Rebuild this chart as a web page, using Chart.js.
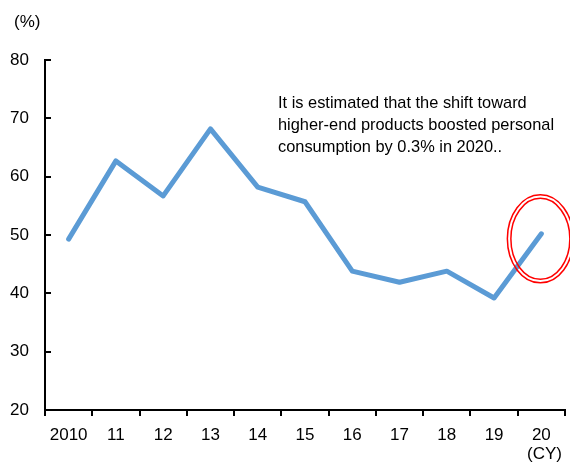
<!DOCTYPE html>
<html>
<head>
<meta charset="utf-8">
<script src="https://cdn.jsdelivr.net/npm/chart.js@4"></script>
<style>
  html, body { margin: 0; padding: 0; background: #fff; }
  #wrap { width: 570px; height: 462px; }
</style>
</head>
<body>
<div id="wrap"><canvas id="lineChart" width="570" height="462"></canvas></div>
<script>
// Datos
var anios = ['2010', '11', '12', '13', '14', '15', '16', '17', '18', '19', '20'];
var valores = [49.3, 62.7, 56.7, 68.2, 58.2, 55.7, 43.8, 41.9, 43.8, 39.2, 50.2];
var ejeY = [20, 30, 40, 50, 60, 70, 80];
var nota = [
    'It is estimated that the shift toward',
    'higher-end products boosted personal',
    'consumption by 0.3% in 2020..'
];

var fuente = '"Liberation Sans", Arial, sans-serif';

// Marcas de los ejes, textos y la elipse roja
var extras = {
    id: 'extras',
    afterDraw: function (chart) {
        var ctx = chart.ctx;
        var x = chart.scales.x;
        var y = chart.scales.y;
        var area = chart.chartArea;
        ctx.save();
        ctx.strokeStyle = '#000';
        ctx.lineWidth = 2;
        // marcas del eje Y hacia adentro
        for (var i = 0; i < ejeY.length; i++) {
            var py = Math.round(y.getPixelForValue(ejeY[i]));
            ctx.beginPath();
            ctx.moveTo(area.left, py);
            ctx.lineTo(area.left + 6, py);
            ctx.stroke();
        }
        // marcas del eje X entre categorias
        for (var j = 0; j <= anios.length; j++) {
            var px = Math.round(x.getPixelForValue(j - 0.5));
            ctx.beginPath();
            ctx.moveTo(px, area.bottom);
            ctx.lineTo(px, area.bottom + 6);
            ctx.stroke();
        }
        // textos
        ctx.fillStyle = '#000';
        ctx.textBaseline = 'alphabetic';
        ctx.textAlign = 'left';
        ctx.font = '17px ' + fuente;
        ctx.fillText('(%)', 14, 27);
        ctx.fillText('(CY)', 527, 459);
        ctx.font = '16.4px ' + fuente;
        for (var k = 0; k < nota.length; k++) {
            ctx.fillText(nota[k], 278, 108 + k * 22);
        }
        // elipse doble alrededor del ultimo punto
        var ult = anios.length - 1;
        var cx = x.getPixelForValue(ult) - 1;
        var cy = y.getPixelForValue(valores[ult]) + 5;
        ctx.strokeStyle = '#ff0000';
        ctx.lineWidth = 1.5;
        ctx.beginPath();
        ctx.ellipse(cx, cy, 33, 44, 0, 0, Math.PI * 2);
        ctx.stroke();
        ctx.beginPath();
        ctx.ellipse(cx, cy, 29.5, 40.5, 0, 0, Math.PI * 2);
        ctx.stroke();
        ctx.restore();
    }
};

var ctx = document.getElementById('lineChart').getContext('2d');
new Chart(ctx, {
    type: 'line',
    data: {
        labels: anios,
        datasets: [
            {
                data: valores,
                borderColor: '#5b9bd5',
                borderWidth: 5,
                borderCapStyle: 'round',
                borderJoinStyle: 'round',
                pointRadius: 0,
                tension: 0,
                fill: false
            }
        ]
    },
    options: {
        responsive: false,
        animation: false,
        events: [],
        layout: { padding: { top: 60, right: 5, left: 0, bottom: 0 } },
        plugins: { legend: { display: false }, tooltip: { enabled: false } },
        scales: {
            x: {
                offset: true,
                grid: { display: false, offset: true },
                border: { display: true, color: '#000', width: 2 },
                ticks: {
                    color: '#000',
                    font: { family: fuente, size: 17 },
                    padding: 7,
                    maxRotation: 0,
                    autoSkip: false
                },
                afterFit: function (scale) { scale.height = 52; }
            },
            y: {
                min: 20,
                max: 80,
                grid: { display: false },
                border: { display: true, color: '#000', width: 2 },
                ticks: {
                    stepSize: 10,
                    color: '#000',
                    font: { family: fuente, size: 17 },
                    padding: 8
                },
                afterFit: function (scale) { scale.width = 45; }
            }
        }
    },
    plugins: [extras]
});
</script>
</body>
</html>
